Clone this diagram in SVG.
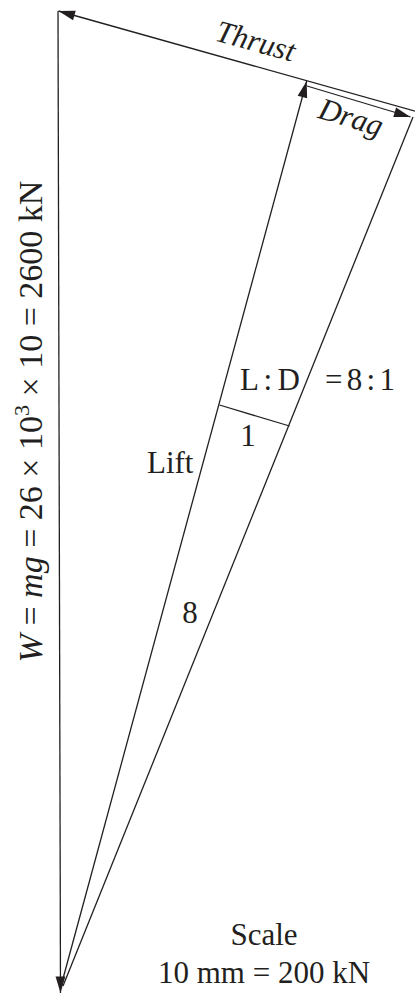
<svg xmlns="http://www.w3.org/2000/svg" width="415" height="994" viewBox="0 0 415 994">
  <style>
    .ln { stroke: #231f20; stroke-width: 1.3; fill: none; }
    .t { font-family: "Liberation Serif", "Times New Roman", serif; font-size: 31px; fill: #231f20; }
    .i { font-style: italic; }
  </style>
  <defs>
    <marker id="ah" markerUnits="userSpaceOnUse" markerWidth="20" markerHeight="12" viewBox="-18 -6 20 12" refX="0" refY="0" orient="auto">
      <path d="M0,0 L-16.5,-4.9 L-16.5,4.9 Z" fill="#231f20"/>
    </marker>
  </defs>
  <rect width="415" height="994" fill="#ffffff"/>
  <g id="connectors">
    <line id="weight" class="ln" x1="58" y1="11" x2="60.5" y2="993" marker-end="url(#ah)"/>
    <line id="thrust" class="ln" x1="418" y1="112" x2="58.5" y2="11" marker-end="url(#ah)"/>
    <line id="lift" class="ln" x1="61" y1="986" x2="306.7" y2="81" marker-end="url(#ah)"/>
    <line id="drag" class="ln" x1="307" y1="86" x2="410.5" y2="117" marker-end="url(#ah)"/>
    <line id="resultant" class="ln" x1="63" y1="986" x2="413" y2="117"/>
    <line id="ratio" class="ln" x1="219.5" y1="405" x2="289.5" y2="426"/>
  </g>
  <g id="label-thrust"><text class="t i" text-anchor="middle" transform="translate(253,51) rotate(15.5)">Thrust</text></g>
  <g id="label-drag"><text class="t i" text-anchor="middle" transform="translate(348,127) rotate(17)">Drag</text></g>
  <g id="label-ld"><text class="t" x="240" y="390" textLength="60" lengthAdjust="spacing">L : D</text></g>
  <g id="label-ratio"><text class="t" x="325" y="390" textLength="70" lengthAdjust="spacing">= 8 : 1</text></g>
  <g id="label-one"><text class="t" x="248" y="446" text-anchor="middle">1</text></g>
  <g id="label-lift"><text class="t" x="147" y="473">Lift</text></g>
  <g id="label-eight"><text class="t" x="190" y="623" text-anchor="middle">8</text></g>
  <g id="label-weight">
    <text class="t" style="font-size:34px" text-anchor="middle" transform="translate(42,421.5) rotate(-90)"><tspan class="i">W</tspan> = <tspan class="i">mg</tspan> = 26 × 10<tspan dy="-13" style="font-size:22px">3</tspan><tspan dy="13"> × 10 = 2600 kN</tspan></text>
  </g>
  <g id="label-scale">
    <text class="t" x="264" y="945" text-anchor="middle">Scale</text>
    <text class="t" x="264" y="983" text-anchor="middle">10 mm = 200 kN</text>
  </g>
</svg>
